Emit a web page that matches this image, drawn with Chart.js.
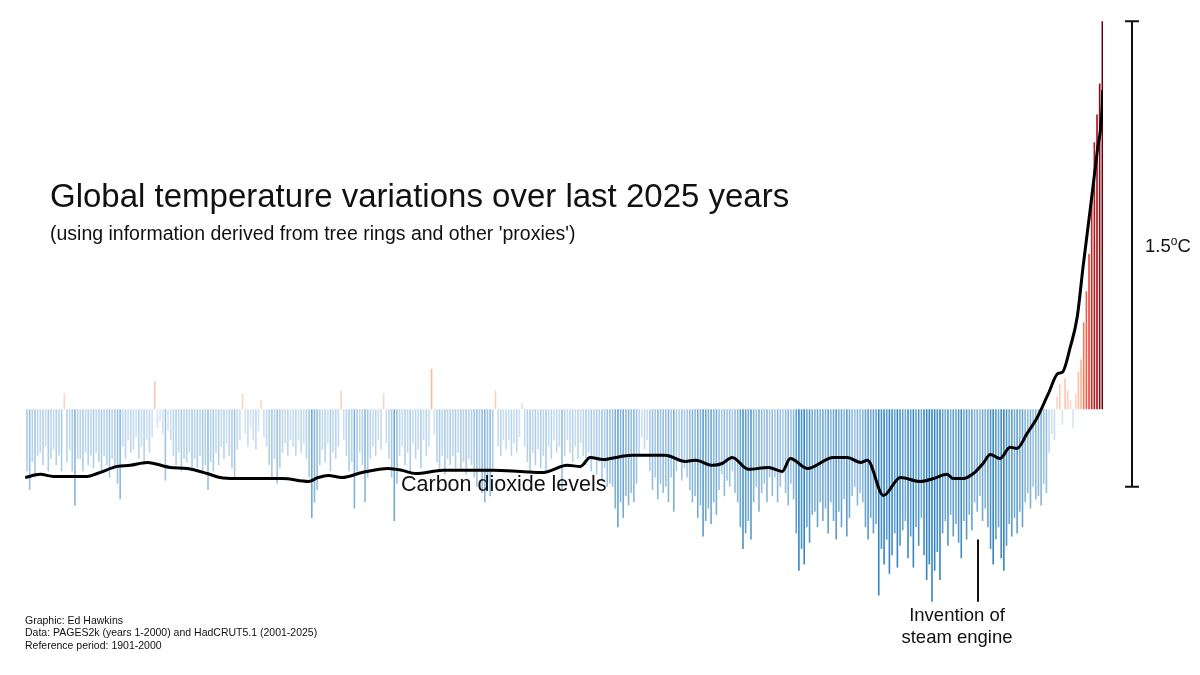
<!DOCTYPE html>
<html>
<head>
<meta charset="utf-8">
<script src="https://cdn.jsdelivr.net/npm/chart.js@4.4.0/dist/chart.umd.min.js"></script>
<style>
  html, body { margin: 0; padding: 0; background: #fff; }
  #wrap { position: relative; width: 1200px; height: 675px; font-family: "Liberation Sans", Arial, Helvetica, sans-serif; color: #111; }
  #chart { position: absolute; left: 0; top: 0; }
  .txt { position: absolute; white-space: nowrap; line-height: 1; }
</style>
</head>
<body>
<div id="wrap">
  <canvas id="chart" width="1200" height="675"></canvas>
  <div class="txt" style="left:50px; top:179px; font-size:33px;">Global temperature variations over last 2025 years</div>
  <div class="txt" style="left:50px; top:224px; font-size:19.5px;">(using information derived from tree rings and other 'proxies')</div>
  <div class="txt" style="left:401px; top:474px; font-size:21.5px;">Carbon dioxide levels</div>
  <div class="txt" style="left:857px; top:604px; width:200px; text-align:center; font-size:18.5px; line-height:22px;">Invention of<br>steam engine</div>
  <div class="txt" style="left:1145px; top:235px; font-size:18.5px;">1.5<sup style="font-size:12px; vertical-align:7px;">o</sup>C</div>
  <div class="txt" style="left:25px; top:614px; font-size:10.5px; line-height:12.4px;">Graphic: Ed Hawkins<br>Data: PAGES2k (years 1-2000) and HadCRUT5.1 (2001-2025)<br>Reference period: 1901-2000</div>
</div>
<script>
// Temperature anomaly (degC vs 1901-2000), one value per 5-year period, years 1-2025
const tempAnomaly = [
  // 1-100
  -0.2, -0.26, -0.17, -0.22, -0.15, -0.14, -0.18, -0.12, -0.2, -0.16, -0.13, -0.18, -0.15, -0.2, 0.05, -0.17, -0.13, -0.2, -0.31, -0.16,
  // 101-200
  -0.16, -0.2, -0.14, -0.18, -0.15, -0.19, -0.14, -0.17, -0.2, -0.15, -0.18, -0.22, -0.16, -0.19, -0.24, -0.29, -0.12, -0.16, -0.1, -0.14,
  // 201-300
  -0.13, -0.09, -0.16, -0.12, -0.17, -0.1, -0.14, -0.09, 0.09, -0.06, -0.04, -0.08, -0.23, -0.07, -0.1, -0.15, -0.18, -0.14, -0.2, -0.16,
  // 301-400
  -0.17, -0.14, -0.2, -0.16, -0.19, -0.15, -0.21, -0.18, -0.26, -0.17, -0.2, -0.14, -0.18, -0.12, -0.16, -0.11, -0.15, -0.19, -0.22, -0.13,
  // 401-500
  -0.1, 0.05, -0.08, -0.12, -0.06, -0.1, -0.13, -0.07, 0.03, -0.09, -0.12, -0.18, -0.22, -0.16, -0.24, -0.19, -0.14, -0.11, -0.15, -0.1,
  // 501-600
  -0.12, -0.15, -0.1, -0.14, -0.11, -0.16, -0.22, -0.35, -0.3, -0.26, -0.18, -0.13, -0.17, -0.11, -0.2, -0.14, -0.16, -0.12, 0.06, -0.1,
  // 601-700
  -0.15, -0.2, -0.17, -0.32, -0.2, -0.14, -0.18, -0.3, -0.22, -0.16, -0.12, -0.15, -0.1, -0.13, 0.05, -0.11, -0.16, -0.22, -0.36, -0.24,
  // 701-800
  -0.15, -0.12, -0.18, -0.14, -0.2, -0.11, -0.16, -0.13, -0.19, -0.1, -0.15, -0.12, 0.13, -0.08, -0.17, -0.2, -0.15, -0.21, -0.16, -0.18,
  // 801-900
  -0.15, -0.19, -0.14, -0.2, -0.17, -0.21, -0.16, -0.18, -0.22, -0.25, -0.2, -0.27, -0.3, -0.24, -0.28, -0.19, 0.06, -0.12, -0.15, -0.1,
  // 901-1000
  -0.13, -0.1, -0.15, -0.11, -0.14, -0.09, 0.02, -0.12, -0.17, -0.2, -0.14, -0.18, -0.13, -0.19, -0.15, -0.2, -0.12, -0.16, -0.1, -0.14,
  // 1001-1100
  -0.12, -0.26, -0.15, -0.1, -0.14, -0.17, -0.12, -0.16, -0.11, -0.15, -0.18, -0.14, -0.2, -0.16, -0.21, -0.17, -0.23, -0.19, -0.25, -0.24,
  // 1101-1200
  -0.25, -0.32, -0.38, -0.3, -0.35, -0.28, -0.31, -0.27, -0.3, -0.24, -0.15, -0.09, -0.13, -0.1, -0.2, -0.26, -0.22, -0.29, -0.24, -0.27,
  // 1201-1300
  -0.25, -0.3, -0.22, -0.33, -0.2, -0.17, -0.23, -0.19, -0.22, -0.26, -0.3, -0.28, -0.35, -0.31, -0.41, -0.36, -0.32, -0.37, -0.3, -0.34,
  // 1301-1400
  -0.26, -0.21, -0.28, -0.23, -0.25, -0.2, -0.27, -0.3, -0.38, -0.45, -0.4, -0.36, -0.42, -0.3, -0.25, -0.33, -0.27, -0.24, -0.3, -0.22,
  // 1401-1500
  -0.28, -0.22, -0.3, -0.25, -0.2, -0.27, -0.31, -0.24, -0.29, -0.4, -0.52, -0.45, -0.5, -0.38, -0.43, -0.34, -0.33, -0.38, -0.3, -0.36,
  // 1501-1600
  -0.32, -0.4, -0.3, -0.36, -0.42, -0.33, -0.38, -0.29, -0.41, -0.35, -0.28, -0.25, -0.31, -0.27, -0.3, -0.38, -0.42, -0.35, -0.4, -0.37,
  // 1601-1700
  -0.6, -0.45, -0.5, -0.42, -0.53, -0.47, -0.4, -0.51, -0.44, -0.39, -0.36, -0.48, -0.41, -0.51, -0.38, -0.44, -0.35, -0.47, -0.55, -0.5,
  // 1701-1800
  -0.62, -0.52, -0.46, -0.55, -0.4, -0.36, -0.44, -0.34, -0.41, -0.37, -0.43, -0.48, -0.36, -0.42, -0.34, -0.39, -0.3, -0.33, -0.28, -0.36,
  // 1801-1900
  -0.32, -0.38, -0.45, -0.5, -0.42, -0.38, -0.48, -0.52, -0.44, -0.37, -0.41, -0.35, -0.4, -0.33, -0.38, -0.3, -0.27, -0.32, -0.25, -0.29,
  // 1901-2000
  -0.28, -0.31, -0.24, -0.27, -0.14, -0.08, -0.1, 0.04, 0.08, -0.05, 0.1, 0.06, 0.03, -0.06, 0.05, 0.12, 0.16, 0.28, 0.38, 0.5,
  // 2001-2025
  0.7, 0.86, 0.95, 1.05, 1.25
];

// CO2 concentration (ppm)
const co2Years = [1, 29, 54, 117, 136, 174, 198, 230, 273, 305, 343, 367, 395, 484, 533, 551, 570, 596, 634, 683,
  709, 734, 786, 880, 931, 974, 1019, 1044, 1062, 1087, 1100, 1141, 1203, 1241, 1260, 1292, 1310, 1329, 1359, 1397,
  1423, 1438, 1470, 1519, 1545, 1570, 1583, 1613, 1645, 1682, 1707, 1733, 1744, 1763, 1782, 1800, 1814, 1832, 1851, 1864,
  1883, 1902, 1923, 1941, 1949, 1964, 1977, 1988, 2002, 2015, 2024, 2025];
const co2Ppm = [279.6, 280.8, 280, 280, 281.1, 283.8, 284.2, 285.3, 283.4, 283, 281.1, 279.6, 279.2, 279.2, 278.1, 279.6, 280.4, 279.6, 281.5, 283,
  282.3, 281.1, 282.3, 282.3, 281.9, 281.5, 284.2, 283.8, 287.2, 286.4, 286.8, 288, 288, 285.7, 286.1, 284.2, 284.9, 287.2, 282.7, 283.4,
  281.9, 286.8, 283, 287.2, 287.2, 285.3, 286.1, 272.8, 279.6, 278.1, 279.2, 280.8, 279.2, 279.2, 281.1, 284.9, 288.3, 286.8, 291, 290.6,
  296.3, 302.3, 311.4, 319, 319.4, 328.9, 340.2, 359.2, 381.9, 403.5, 419.8, 426.2];

const steamEngineYear = 1790;

// labels: first year of each 5-year period
const periodLabels = tempAnomaly.map((v, i) => String(5 * i + 1));

function lerpColor(a, b, t) {
    return 'rgb(' + a.map((c, k) => Math.round(c + (b[k] - c) * t)).join(',') + ')';
}

const redStops = [
    [0, [254, 224, 210]], [0.15, [252, 180, 150]], [0.3, [251, 110, 78]],
    [0.6, [222, 45, 38]], [0.9, [175, 18, 24]], [1.25, [103, 0, 13]]
];

function colorFor(v) {
    if (v < 0) {
        const t = Math.pow(Math.min(1, -v / 0.5), 1.3);
        return lerpColor([222, 235, 247], [52, 132, 192], t);
    }
    for (let k = 1; k < redStops.length; k++) {
        if (v <= redStops[k][0]) {
            const t = (v - redStops[k - 1][0]) / (redStops[k][0] - redStops[k - 1][0]);
            return lerpColor(redStops[k - 1][1], redStops[k][1], t);
        }
    }
    return 'rgb(103,0,13)';
}

// scale bar + steam engine marker
const extrasPlugin = {
    id: 'extras',
    afterDraw(chart) {
        const ctx = chart.ctx;
        const y = chart.scales.y;
        const xYear = chart.scales.xYear;
        ctx.save();
        ctx.strokeStyle = '#111';
        ctx.lineWidth = 2;
        const top = y.getPixelForValue(1.25);
        const bot = y.getPixelForValue(-0.25);
        ctx.beginPath();
        ctx.moveTo(1132, top); ctx.lineTo(1132, bot);
        ctx.moveTo(1125, top); ctx.lineTo(1139, top);
        ctx.moveTo(1125, bot); ctx.lineTo(1139, bot);
        const sx = Math.round(xYear.getPixelForValue(steamEngineYear));
        ctx.moveTo(sx, y.getPixelForValue(-0.42));
        ctx.lineTo(sx, y.getPixelForValue(-0.62));
        ctx.stroke();
        ctx.restore();
    }
};

const ctx = document.getElementById('chart').getContext('2d');
const chart = new Chart(ctx, {
    type: 'bar',
    data: {
        labels: periodLabels,
        datasets: [{
            type: 'line',
            data: co2Years.map((yr, i) => ({ x: yr, y: co2Ppm[i] })),
            xAxisID: 'xYear',
            yAxisID: 'yCo2',
            borderColor: '#000',
            borderWidth: 3,
            pointRadius: 0,
            cubicInterpolationMode: 'monotone',
            order: 0
        }, {
            data: tempAnomaly,
            xAxisID: 'x',
            yAxisID: 'y',
            backgroundColor: tempAnomaly.map(colorFor),
            borderWidth: 0,
            barPercentage: 1.2,
            categoryPercentage: 1,
            order: 1
        }]
    },
    options: {
        responsive: false,
        animation: false,
        layout: { padding: { left: 25, right: 97, top: 12, bottom: 64 } },
        plugins: { legend: { display: false }, tooltip: { enabled: false } },
        scales: {
            x: { display: false, grid: { display: false } },
            xYear: { type: 'linear', display: false, offset: false, min: 0.5, max: 2025.5 },
            y: { display: false, min: -0.65, max: 1.28 },
            yCo2: { display: false, min: 229.1, max: 455.7 }
        }
    },
    plugins: [extrasPlugin]
});
</script>
</body>
</html>
